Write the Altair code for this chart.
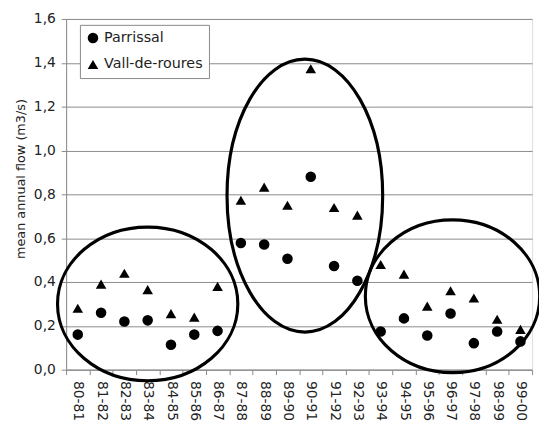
import altair as alt
import pandas as pd

years = ["80-81", "81-82", "82-83", "83-84", "84-85", "85-86", "86-87", "87-88", "88-89", "89-90",
         "90-91", "91-92", "92-93", "93-94", "94-95", "95-96", "96-97", "97-98", "98-99", "99-00"]
parrissal = [0.16, 0.26, 0.22, 0.225, 0.114, 0.16, 0.177, 0.578, 0.571, 0.506,
             0.88, 0.473, 0.406, 0.174, 0.234, 0.156, 0.256, 0.121, 0.174, 0.129]
vall = [0.28, 0.39, 0.44, 0.365, 0.256, 0.24, 0.38, 0.773, 0.833, 0.75,
        1.373, 0.74, 0.705, 0.48, 0.436, 0.29, 0.36, 0.327, 0.23, 0.184]
series = ["Parrissal", "Vall-de-roures"]

rows = []
for y, p, v in zip(years, parrissal, vall):
    rows.append({"year": y, "flow": p, "station": series[0]})
    rows.append({"year": y, "flow": v, "station": series[1]})
df = pd.DataFrame(rows)

# annotation ellipses: centre category, centre value
ell_year = ["83-84", "90-91", "96-97"]
ell_value = [0.30, 0.794, 0.335]

FONT = "DejaVu Sans"
W, H = 473, 356

xenc = alt.X("year:N", sort=years, title=None,
             scale=alt.Scale(domain=years, paddingInner=0, paddingOuter=0),
             axis=alt.Axis(labelAngle=90, tickBand="extent", labelFontSize=14, labelFont=FONT,
                           labelColor="#222", domainColor="#888", tickColor="#888", tickSize=5,
                           labelPadding=6, grid=False))
yenc = alt.Y("flow:Q", title="mean annual flow (m3/s)",
             scale=alt.Scale(domain=[0, 1.6]),
             axis=alt.Axis(values=[0, 0.2, 0.4, 0.6, 0.8, 1.0, 1.2, 1.4, 1.6],
                           labelExpr="replace(format(datum.value, '.1f'), '.', ',')",
                           labelFontSize=14, labelFont=FONT, labelColor="#222",
                           titleFont=FONT, titleFontSize=13, titleFontWeight="normal", titleColor="#222",
                           titlePadding=6, titleY=162, gridColor="#8a8a8a", domainColor="#888",
                           tickColor="#888", tickSize=5, labelPadding=6))

points = alt.Chart(df).mark_point(filled=True, opacity=1, size=115, color="black").encode(
    x=xenc, y=yenc,
    shape=alt.Shape("station:N", scale=alt.Scale(domain=series, range=["circle", "triangle-up"]),
                    legend=alt.Legend(title=None, orient="none", legendX=14, legendY=6,
                                      fillColor="white", strokeColor="#888", padding=6,
                                      labelFont=FONT, labelFontSize=14.5, labelColor="#222",
                                      symbolSize=115, symbolFillColor="black", symbolStrokeColor="black",
                                      rowPadding=10, labelOffset=4)),
)


def ellipse_path(r):
    k = 0.5523
    f = lambda v: f"{v:.4f}"
    return (f"M -1 0 C -1 {f(-k*r)} {f(-k)} {f(-r)} 0 {f(-r)} "
            f"C {f(k)} {f(-r)} 1 {f(-k*r)} 1 0 "
            f"C 1 {f(k*r)} {f(k)} {f(r)} 0 {f(r)} "
            f"C {f(-k)} {f(r)} -1 {f(k*r)} -1 0 Z")


ell_w = [183, 158, 177]
ell_h = [156, 277, 155]
ell_dx = [0, -6, 2]

layers = [points]
for yy, vv, w, h, dx in zip(ell_year, ell_value, ell_w, ell_h, ell_dx):
    edf = pd.DataFrame({"year": [yy], "flow": [vv]})
    layers.append(
        alt.Chart(edf).mark_point(filled=False, stroke="black", strokeWidth=3.2, opacity=1,
                                  shape=ellipse_path(h / w), size=w * w, xOffset=dx).encode(
            x=alt.X("year:N", sort=years), y=alt.Y("flow:Q"))
    )

chart = alt.layer(*layers).properties(
    width=W, height=H,
    autosize=alt.AutoSizeParams(type="none"),
    padding={"left": 59, "top": 8, "right": 7, "bottom": 50},
).configure_view(stroke="#888").configure(background="white")

chart.save("out.html", embed_options={"renderer": "svg", "actions": False})
